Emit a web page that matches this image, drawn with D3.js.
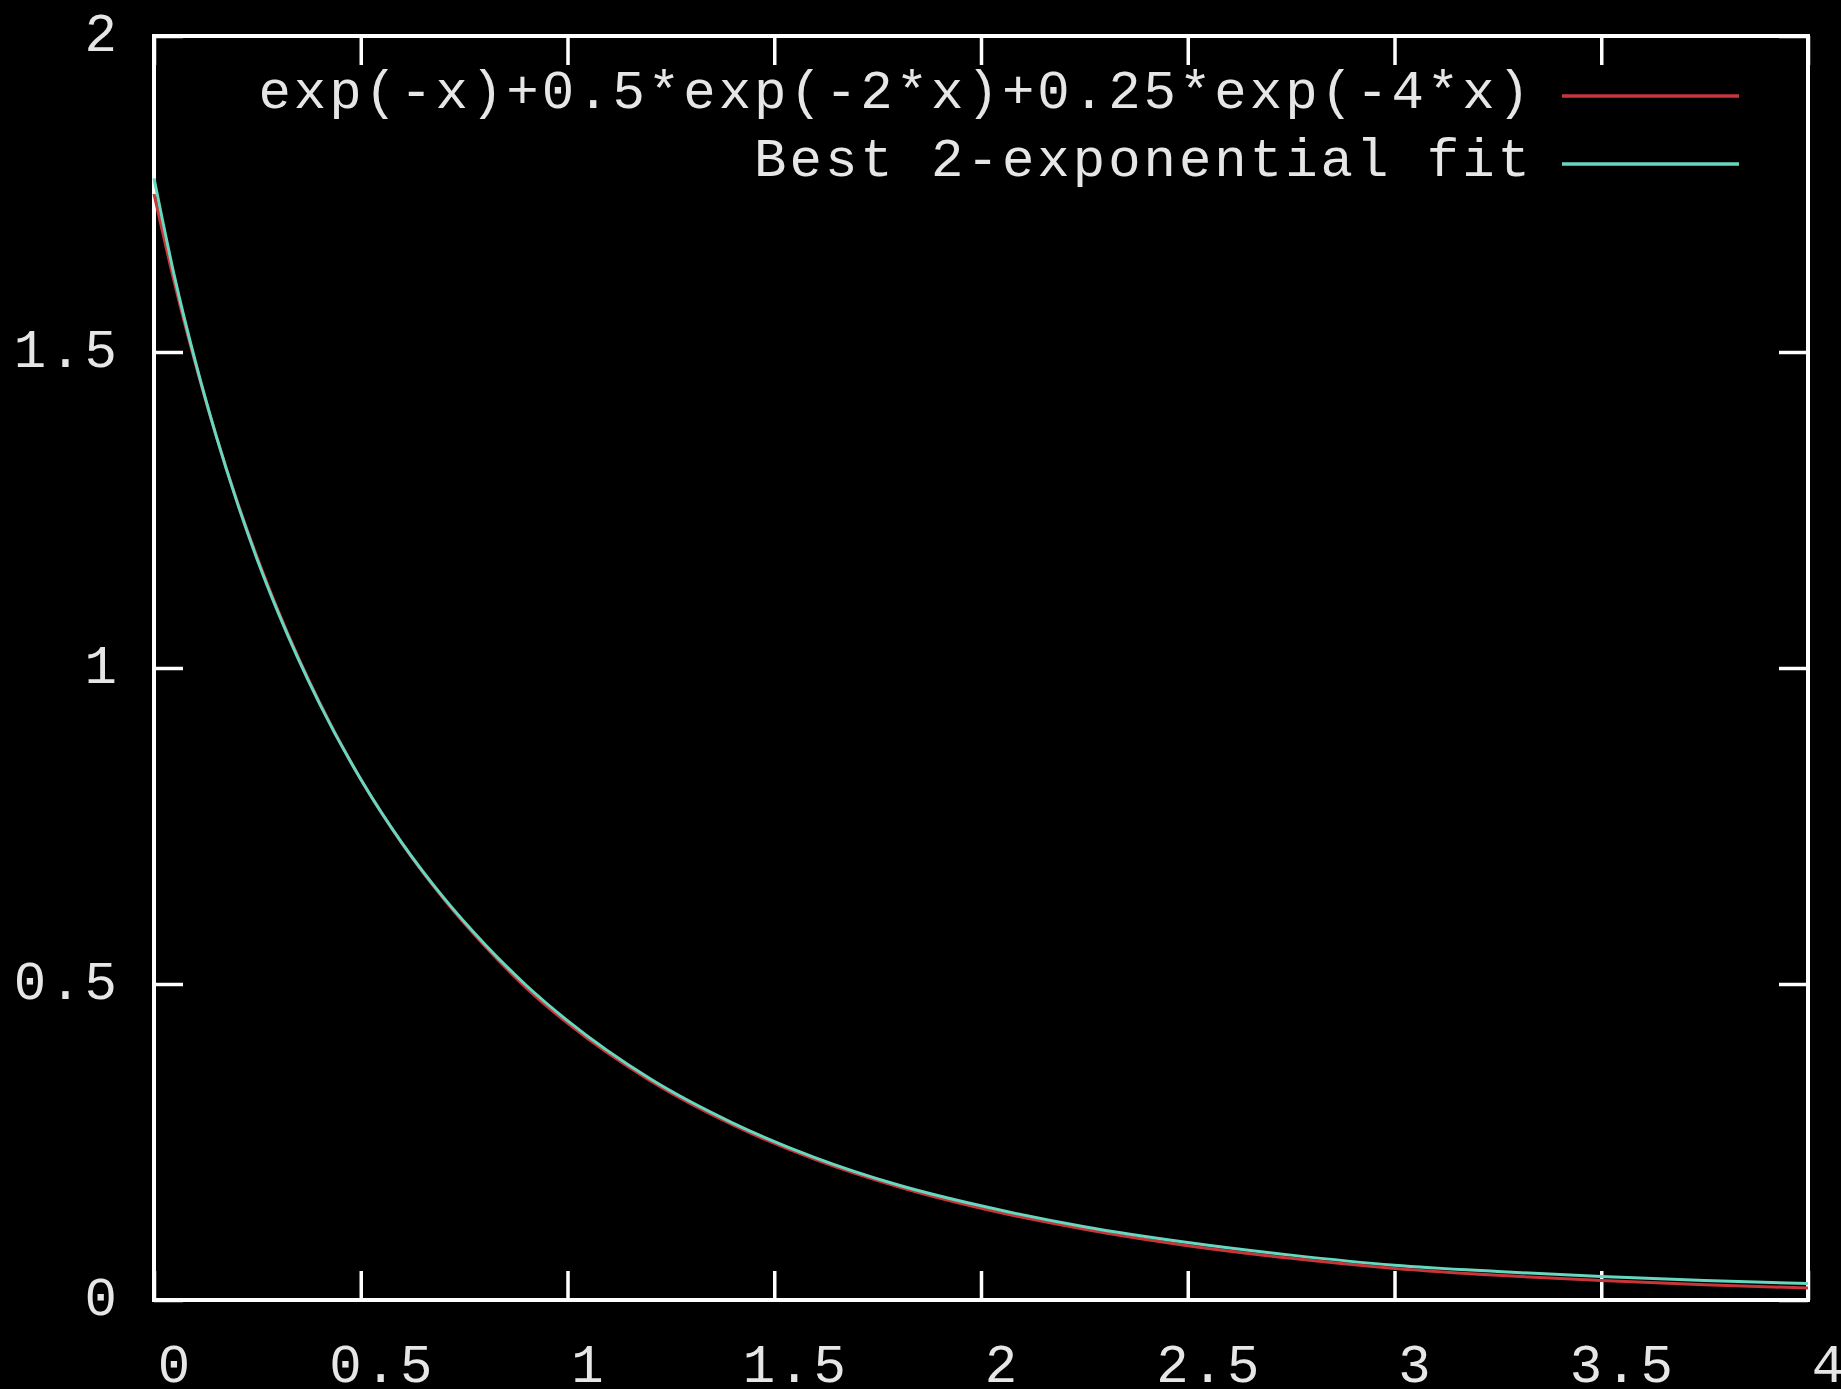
<!DOCTYPE html>
<html>
<head>
<meta charset="utf-8">
<script src="https://cdn.jsdelivr.net/npm/d3@7"></script>
<style>
  html, body { margin: 0; padding: 0; background: #000; }
  #chart { width: 1841px; height: 1389px; }
  text { font-family: "Liberation Mono", "DejaVu Sans Mono", monospace; fill: #e6e6e6; }
</style>
</head>
<body>
<div id="chart"></div>
<script>
// x positions sampled along the curves
const xValues = [0, 0.05, 0.1, 0.15, 0.2, 0.25, 0.3, 0.4, 0.5, 0.6, 0.7, 0.8, 0.9, 1.0, 1.2, 1.4, 1.6, 1.8, 2.0, 2.25, 2.5, 2.75, 3.0, 3.25, 3.5, 3.75, 4.0];
// exp(-x)+0.5*exp(-2*x)+0.25*exp(-4*x)
const sumValues = [1.75, 1.608, 1.482, 1.368, 1.266, 1.174, 1.091, 0.946, 0.824, 0.722, 0.635, 0.560, 0.494, 0.438, 0.347, 0.277, 0.222, 0.179, 0.145, 0.112, 0.086, 0.066, 0.050, 0.039, 0.031, 0.024, 0.019];
// best 2-exponential fit
const fitValues = [1.775, 1.618, 1.485, 1.368, 1.264, 1.171, 1.088, 0.944, 0.824, 0.723, 0.637, 0.563, 0.498, 0.442, 0.350, 0.280, 0.225, 0.182, 0.149, 0.116, 0.091, 0.071, 0.055, 0.045, 0.037, 0.031, 0.026];

const seriesNames = ["exp(-x)+0.5*exp(-2*x)+0.25*exp(-4*x)", "Best 2-exponential fit"];
const seriesColors = ["#c8363a", "#66d8bf"];

const xTicks = [0, 0.5, 1, 1.5, 2, 2.5, 3, 3.5, 4];
const xTickLabels = ["0", "0.5", "1", "1.5", "2", "2.5", "3", "3.5", "4"];
const yTicks = [0, 0.5, 1, 1.5, 2];
const yTickLabels = ["0", "0.5", "1", "1.5", "2"];

function draw() {
  const margin = { top: 36, right: 33, bottom: 89, left: 154 };
  const W = 1841, H = 1389;
  const width = W - margin.left - margin.right;
  const height = H - margin.top - margin.bottom;

  const svg = d3.select("#chart")
    .append("svg")
    .attr("width", W)
    .attr("height", H)
    .style("background", "#000");

  const g = svg.append("g")
    .attr("transform", `translate(${margin.left},${margin.top})`);

  const x = d3.scaleLinear().domain([0, 4]).range([0, width]);
  const y = d3.scaleLinear().domain([0, 2]).range([height, 0]);

  const tickLen = 29;
  const fontSize = 54;
  const spacing = 3;

  // ticks, mirrored on all four sides, pointing inward
  const bottomAxis = g.append("g")
    .attr("transform", `translate(0,${height})`)
    .call(d3.axisBottom(x).tickValues(xTicks).tickSize(-tickLen)
      .tickFormat((d, i) => xTickLabels[i]));
  const topAxis = g.append("g")
    .call(d3.axisTop(x).tickValues(xTicks).tickSize(-tickLen).tickFormat(""));
  const leftAxis = g.append("g")
    .call(d3.axisLeft(y).tickValues(yTicks).tickSize(-tickLen)
      .tickFormat((d, i) => yTickLabels[i]));
  const rightAxis = g.append("g")
    .attr("transform", `translate(${width},0)`)
    .call(d3.axisRight(y).tickValues(yTicks).tickSize(-tickLen).tickFormat(""));

  [bottomAxis, topAxis, leftAxis, rightAxis].forEach(a => {
    a.select(".domain").remove();
    a.selectAll("line").attr("stroke", "#fff").attr("stroke-width", 3.5);
  });

  bottomAxis.selectAll("text")
    .attr("x", 21)
    .attr("y", 82)
    .attr("dy", null)
    .attr("font-size", fontSize)
    .attr("letter-spacing", spacing)
    .attr("fill", "#e6e6e6");

  leftAxis.selectAll("text")
    .attr("x", -34)
    .attr("dy", 14)
    .attr("font-size", fontSize)
    .attr("letter-spacing", spacing)
    .attr("fill", "#e6e6e6");

  // frame
  g.append("rect")
    .attr("x", 0).attr("y", 0)
    .attr("width", width).attr("height", height)
    .attr("fill", "none")
    .attr("stroke", "#fff")
    .attr("stroke-width", 4);

  const line = d3.line()
    .x(d => x(d[0]))
    .y(d => y(d[1]))
    .curve(d3.curveMonotoneX);

  const series = [sumValues, fitValues];
  series.forEach((vals, k) => {
    g.append("path")
      .datum(xValues.map((xv, i) => [xv, vals[i]]))
      .attr("fill", "none")
      .attr("stroke", seriesColors[k])
      .attr("stroke-width", 3)
      .attr("d", line);
  });

  // legend
  const legendTextX = 1533 - margin.left;
  const legendLine = [1562 - margin.left, 1739 - margin.left];
  const legendY = [96 - margin.top, 164 - margin.top];
  seriesNames.forEach((name, k) => {
    g.append("text")
      .attr("x", legendTextX)
      .attr("y", legendY[k] + 12)
      .attr("text-anchor", "end")
      .attr("font-size", fontSize)
      .attr("letter-spacing", spacing)
      .text(name);
    g.append("line")
      .attr("x1", legendLine[0]).attr("x2", legendLine[1])
      .attr("y1", legendY[k]).attr("y2", legendY[k])
      .attr("stroke", seriesColors[k])
      .attr("stroke-width", 3.5);
  });
}

draw();
</script>
</body>
</html>
